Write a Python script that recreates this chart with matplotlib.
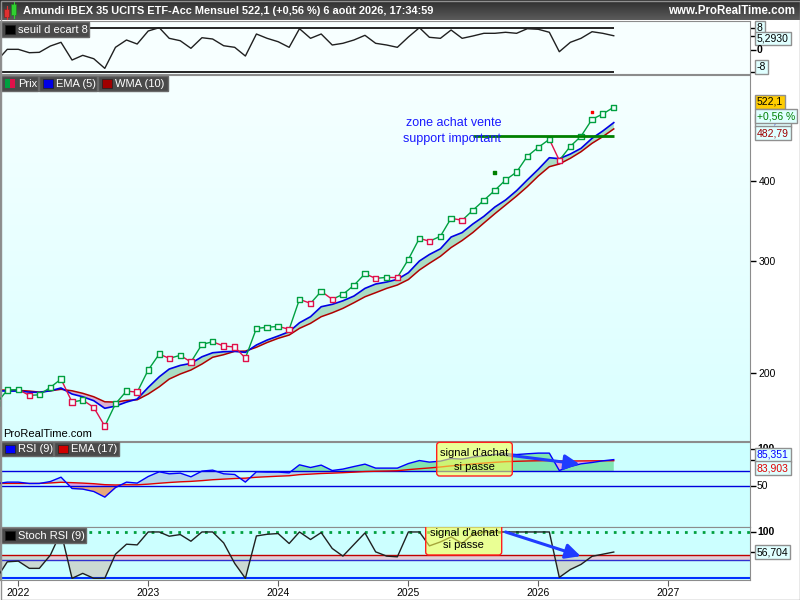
import numpy as np
import pandas as pd
import matplotlib
matplotlib.use("Agg")
import matplotlib.pyplot as plt
import matplotlib.dates as mdates
from matplotlib.patches import Rectangle, FancyBboxPatch
from matplotlib.ticker import NullLocator, FixedLocator

plt.rcParams['font.family'] = ['Liberation Sans', 'DejaVu Sans']

# ---- data (monthly, Nov 2021 -> Aug 2026) ----
months = pd.date_range("2021-11-01", "2026-08-01", freq="MS")

prix = [179.3, 188.1, 188.4, 184.5, 184.9, 189.9, 195.7, 180.1, 181.4, 176.7,
        165.1, 179.0, 187.4, 186.7, 202.2, 214.2, 210.9, 213.2, 208.1, 221.8,
        223.9, 220.5, 219.7, 211.1, 235.0, 235.9, 236.7, 234.2, 261.0, 257.2,
        268.6, 261.0, 265.7, 274.5, 286.2, 281.5, 282.5, 282.3, 301.5, 325.3,
        321.8, 327.7, 349.7, 347.1, 359.9, 373.1, 386.8, 401.5, 413.2, 437.3,
        451.7, 465.0, 431.0, 453.4, 470.1, 499.8, 509.5, 522.1]
ema5 = [187.6, 187.4, 187.4, 186.7, 186.5, 187.6, 189.5, 185.4, 183.6, 181.0,
        176.1, 177.5, 180.1, 182.1, 189.9, 197.3, 202.9, 205.6, 207.1, 212.1,
        215.2, 216.0, 216.3, 215.5, 221.3, 225.3, 228.6, 232.2, 239.8, 245.1,
        254.1, 256.3, 259.6, 264.1, 271.5, 275.8, 277.8, 280.5, 287.3, 299.7,
        306.8, 313.2, 326.8, 332.1, 342.5, 352.1, 364.2, 373.5, 386.3, 401.5,
        417.3, 435.1, 433.6, 440.9, 450.1, 466.7, 479.1, 493.85]
wma10 = [188.1, 188.1, 187.9, 187.4, 186.7, 187.6, 188.6, 187.6, 185.9, 183.6,
         180.3, 180.1, 181.2, 181.6, 185.4, 190.3, 195.7, 199.3, 202.2, 206.6,
         211.7, 213.7, 216.3, 216.5, 219.5, 223.3, 226.7, 229.4, 235.0, 239.3,
         245.1, 248.6, 252.6, 257.8, 263.4, 267.3, 271.5, 274.8, 280.3, 290.1,
         297.2, 304.8, 314.6, 322.7, 332.1, 343.7, 355.5, 366.8, 378.9, 391.9,
         407.3, 421.2, 425.3, 434.2, 444.6, 458.3, 469.4, 482.79]
ecart = [-3.9, 0.36, 0.36, -0.87, -0.73, 1.56, 2.91, -3.53, -1.82, -3.05,
         -6.55, 1.09, 3.75, 2.29, 7.02, 8.22, 4.36, 3.49, 0.73, 4.58,
         4.11, 1.67, 1.09, -2.07, 5.93, 4.36, 3.13, 1.09, 7.85, 4.36,
         5.93, 1.93, 2.55, 3.75, 5.45, 2.55, 1.93, 1.09, 4.84, 8.22,
         4.73, 4.36, 7.38, 4.36, 5.2, 6.18, 6.18, 6.55, 6.18, 7.85,
         7.64, 6.55, -0.51, 2.91, 4.36, 6.76, 6.18, 5.293]
rsi9 = [53.3, 55.3, 55.3, 53.5, 53.5, 56.1, 61.9, 46.8, 46.0, 42.8,
        35.3, 48.1, 55.3, 54.0, 62.8, 69.1, 66.4, 67.3, 62.4, 70.0,
        71.3, 66.4, 65.5, 55.3, 69.1, 68.7, 68.7, 67.7, 78.4, 74.8,
        78.0, 70.8, 72.7, 76.1, 79.3, 74.0, 74.0, 74.0, 80.1, 84.1,
        82.0, 83.3, 86.8, 86.0, 88.7, 90.4, 92.1, 93.1, 92.1, 93.1,
        94.0, 94.0, 70.8, 76.1, 79.7, 81.5, 83.7, 85.351]
rsi_ema17 = [53.5, 53.5, 53.5, 53.5, 53.6, 54.2, 55.1, 54.6, 54.0, 53.2,
             51.9, 51.5, 51.8, 51.7, 52.6, 53.8, 54.8, 55.7, 56.3, 57.3,
             58.5, 59.3, 60.1, 60.6, 61.8, 62.5, 63.2, 63.8, 65.3, 66.0,
             66.8, 67.3, 67.9, 68.6, 69.4, 69.8, 70.1, 70.5, 72.0, 73.2,
             74.2, 75.5, 77.0, 78.3, 79.5, 80.7, 81.7, 82.6, 83.1, 83.5,
             83.8, 84.0, 83.6, 83.5, 83.6, 83.7, 83.8, 83.903]
stoch_rsi = [0, 35.6, 37.1, 21.5, 21.5, 50, 100, 0, 10.7, 0,
             0, 52, 73.6, 72.1, 100, 100, 90.8, 94.4, 80, 100,
             100, 76.4, 32.2, 0, 91.4, 95, 96.6, 75.1, 100, 83.7,
             98.7, 64.4, 47.9, 73, 97.9, 57.1, 47.9, 46.4, 100, 100,
             70, 78.5, 89.3, 75.1, 95, 100, 100, 100, 100, 100,
             100, 100, 2, 19, 30, 47.5, 52, 56.704]

support_level = 471.0
support_start = pd.Timestamp("2025-07-01")
signal_dates = [pd.Timestamp("2025-09-01"), pd.Timestamp("2026-06-01")]
signal_values = [412.0, 513.0]
signal_colors = ["#008000", "#ff0000"]
years = [2022, 2023, 2024, 2025, 2026, 2027]
price_ticks = [200, 300, 400]

prix = np.array(prix)
ema5 = np.array(ema5)
wma10 = np.array(wma10)
rsi9 = np.array(rsi9)
rsi_ema17 = np.array(rsi_ema17)
stoch_rsi = np.array(stoch_rsi)

# ---- layout in pixels ----
W, H = 800, 600


def box(x0, y0, x1, y1):
    return [x0 / W, 1 - y1 / H, (x1 - x0) / W, (y1 - y0) / H]


fig = plt.figure(figsize=(8, 6), dpi=100, facecolor="white")

ax_top = fig.add_axes(box(0, 21, 750, 74))
ax_bg = fig.add_axes(box(0, 75, 750, 441))
ax = fig.add_axes(box(0, 75, 750, 441))
ax_rsi = fig.add_axes(box(0, 441.5, 750, 526.5))
ax_st = fig.add_axes(box(0, 527, 750, 580))

x_jan22 = mdates.date2num(pd.Timestamp("2022-01-01"))
ppd = 130 / 365.25
xl = (x_jan22 - 18.3 / ppd, x_jan22 + (750 - 18.3) / ppd)

# main background gradient
ax_bg.imshow(np.linspace(0, 1, 100).reshape(-1, 1),
             cmap=matplotlib.colors.LinearSegmentedColormap.from_list(
                 "bg", ["#f6ffff", "#d9ffff"]),
             aspect="auto", extent=[0, 1, 1, 0])
ax_bg.axis("off")
ax.patch.set_alpha(0)

for a in (ax_top, ax, ax_rsi, ax_st):
    a.set_xlim(*xl)
    for s in a.spines.values():
        s.set_color("#8c8c8c")
    a.tick_params(axis="x", which="both", bottom=False, labelbottom=False)
    a.yaxis.tick_right()
    a.yaxis.set_minor_locator(NullLocator())
    a.tick_params(axis="y", which="major", length=4, width=1, colors="black",
                  labelsize=7.5, pad=2, labelright=False)

lab_box = dict(boxstyle="square,pad=0.18", fc="#e0ffff", ec="#909090", lw=1)


def rlabel(a, val, text, color="black", fc="#e0ffff", dy=0, bold=False, boxed=True):
    a.annotate(text, xy=(1.0, val), xycoords=a.get_yaxis_transform(),
               xytext=(5, dy), textcoords="offset points", va="center", ha="left",
               fontsize=7.5, color=color, fontweight="bold" if bold else "normal",
               bbox=dict(lab_box, fc=fc) if boxed else None,
               annotation_clip=False, zorder=30)


# ---- top panel: seuil d ecart 8 ----
ax_top.set_facecolor("#f7ffff")
ax_top.set_ylim(-8.6, 10.65)
ax_top.hlines([8, -8], months[0], months[-1], color="black", lw=1.2)
ax_top.plot(months, ecart, color="#202020", lw=1)
ax_top.yaxis.set_major_locator(FixedLocator([8, 5.293, 0, -8]))
rlabel(ax_top, 8, "8")
rlabel(ax_top, 5.293, "5,2930", dy=-2)
rlabel(ax_top, 0, "0", bold=True, boxed=False)
rlabel(ax_top, -8, "-8", dy=4)

# ---- main panel: price / EMA / WMA ----
ax.set_yscale("log")
ax.set_ylim(156.5, 586.5)
ax.fill_between(months, ema5, wma10, where=ema5 >= wma10, interpolate=True,
                color="#a9dcc2", lw=0, zorder=1)
ax.fill_between(months, ema5, wma10, where=ema5 < wma10, interpolate=True,
                color="#d9b2d2", lw=0, zorder=1)
ax.plot(months, wma10, color="#b00000", lw=1.1, zorder=2)
ax.plot(months, ema5, color="#0000e6", lw=1.2, zorder=2)

up_c, down_c = "#00a040", "#e0104a"
colors = [up_c]
for i in range(1, len(prix)):
    c = up_c if prix[i] >= prix[i - 1] else down_c
    colors.append(c)
    ax.plot(months[i - 1:i + 1], prix[i - 1:i + 1], color=c, lw=1, zorder=3)
ax.scatter(months, prix, marker="s", s=15, facecolors="#f0ffff",
           edgecolors=colors, linewidths=1.0, zorder=4)
ax.scatter(signal_dates, signal_values, marker="s", s=4, color=signal_colors, zorder=4)
ax.hlines(support_level, support_start, months[-1], color="#008000", lw=2, zorder=5)

ax.yaxis.set_major_locator(FixedLocator(price_ticks))
ax.yaxis.set_minor_locator(NullLocator())
ax.tick_params(axis="y", labelright=True)
ax.set_yticklabels([str(t) for t in price_ticks])
rlabel(ax, ema5[-1], "493,85", color="#0000e6", dy=1.5)
rlabel(ax, wma10[-1], "482,79", color="#a00000", dy=-3)
rlabel(ax, prix[-1], "522,1", fc="#ffcc00", dy=4)
rlabel(ax, prix[-1], "+0,56 %", color="#008000", dy=-6.5)

# ---- RSI panel ----
ax_rsi.set_facecolor("#ccffff")
ax_rsi.set_ylim(-3.9, 109.5)
ax_rsi.fill_between(months, rsi9, rsi_ema17, where=rsi9 >= rsi_ema17,
                    interpolate=True, color="#b4d6ec", lw=0, zorder=1)
ax_rsi.fill_between(months, rsi9, rsi_ema17, where=rsi9 < rsi_ema17,
                    interpolate=True, color="#dca8e4", lw=0, zorder=1)
ax_rsi.fill_between(months, rsi9, 70, where=rsi9 > 70, interpolate=True,
                    color="#80e4b2", lw=0, zorder=1.5)
ax_rsi.fill_between(months, rsi9, 50, where=rsi9 < 50, interpolate=True,
                    color="#e8a878", lw=0, zorder=1.5)
ax_rsi.axhline(70, color="#0000dd", lw=1, zorder=2)
ax_rsi.axhline(50, color="#0000dd", lw=1, zorder=2)
ax_rsi.plot(months, rsi_ema17, color="#e00000", lw=1, zorder=3)
ax_rsi.plot(months, rsi9, color="#0000ff", lw=1, zorder=3)
ax_rsi.yaxis.set_major_locator(FixedLocator([100, 50, rsi9[-1]]))
rlabel(ax_rsi, 100, "100", bold=True, boxed=False)
rlabel(ax_rsi, 50, "50", boxed=False)
rlabel(ax_rsi, rsi9[-1], "85,351", color="#0000ff", dy=3.5)
rlabel(ax_rsi, rsi_ema17[-1], "83,903", color="#e00000", dy=-5.5)
ax_rsi.annotate("", xy=(pd.Timestamp("2026-04-27"), 79.3),
                xytext=(pd.Timestamp("2025-10-03"), 91.7),
                arrowprops=dict(arrowstyle="-|>,head_length=0.9,head_width=0.45",
                                color="#1f3cff", lw=2.2, shrinkA=0, shrinkB=0),
                zorder=6)

# ---- Stoch RSI panel ----
ax_st.set_facecolor("#ccffff")
ax_st.set_ylim(-3.6, 110.7)
ax_st.axhspan(40, 50, color="#e2cdd6", lw=0, zorder=0.5)
ax_st.fill_between(months, stoch_rsi, 50, where=stoch_rsi < 50, interpolate=True,
                   color="#cbd9d2", lw=0, zorder=1)
ax_st.axhline(100, color="#00a040", lw=2, ls=(0, (1, 2.2)), zorder=2)
ax_st.axhline(50, color="#c00000", lw=1, zorder=2)
ax_st.axhline(40, color="#3030d0", lw=1, zorder=2)
ax_st.axhline(0, color="#0030ff", lw=1.5, zorder=2)
ax_st.plot(months, stoch_rsi, color="#202020", lw=1, zorder=3)
ax_st.yaxis.set_major_locator(FixedLocator([100, stoch_rsi[-1]]))
rlabel(ax_st, 100, "100", bold=True, boxed=False)
rlabel(ax_st, stoch_rsi[-1], "56,704")
ax_st.annotate("", xy=(pd.Timestamp("2026-04-30"), 47.9),
               xytext=(pd.Timestamp("2025-10-01"), 100),
               arrowprops=dict(arrowstyle="-|>,head_length=0.9,head_width=0.45",
                               color="#1f3cff", lw=2.2, shrinkA=0, shrinkB=0),
               zorder=6)

year_pos = [pd.Timestamp(f"{y}-01-01") for y in years]
ax_st.set_xticks(year_pos)
ax_st.set_xticklabels([str(y) for y in years])
ax_st.tick_params(axis="x", bottom=True, labelbottom=True, length=4,
                  labelsize=7.5, pad=2, color="#606060")

# ---- overlay: title bar, legends, notes ----
ov = fig.add_axes([0, 0, 1, 1], zorder=20)
ov.set_xlim(0, W)
ov.set_ylim(H, 0)
ov.axis("off")

ov.imshow(np.linspace(0, 1, 20).reshape(-1, 1),
          cmap=matplotlib.colors.LinearSegmentedColormap.from_list(
              "bar", ["#2e2e2e", "#5a5a5a"]),
          aspect="auto", extent=[0, W, 20, 0], zorder=1)
ov.set_xlim(0, W)
ov.set_ylim(H, 0)
ov.add_patch(Rectangle((4, 9), 5, 8, fc="#e03030", ec="#802020", lw=0.5, zorder=2))
ov.plot([6.5, 6.5], [6, 19], color="#e03030", lw=0.8, zorder=2)
ov.add_patch(Rectangle((11, 4), 5, 11, fc="#30d030", ec="#208020", lw=0.5, zorder=2))
ov.plot([13.5, 13.5], [1, 18], color="#30d030", lw=0.8, zorder=2)
ov.text(23, 10.5, "Amundi IBEX 35 UCITS ETF-Acc Mensuel 522,1 (+0,56 %) 6 août 2026, 17:34:59",
        color="white", fontweight="bold", fontsize=7.9, va="center", ha="left", zorder=3)
ov.text(795, 10.5, "www.ProRealTime.com", color="white", fontweight="bold",
        fontsize=8.3, va="center", ha="right", zorder=3)


def legend_seg(x0, x1, y0, y1, text, sq_color, text_color="white"):
    ov.add_patch(Rectangle((x0, y0), x1 - x0, y1 - y0, fc="#4a4a4a", ec="#6a6a6a",
                           lw=1, zorder=5))
    if sq_color is not None:
        ov.add_patch(Rectangle((x0 + 4, y0 + 3), 10, y1 - y0 - 6, fc=sq_color,
                               ec="#202020", lw=0.5, zorder=6))
    ov.text(x0 + 17, (y0 + y1) / 2 + 0.5, text, color=text_color, fontsize=8,
            va="center", ha="left", zorder=6)


legend_seg(1, 89, 22, 37, "seuil d ecart 8", "black")
legend_seg(1, 38, 75.5, 91, "Prix", None)
ov.add_patch(Rectangle((5, 78.5), 5, 9.5, fc="#00a040", lw=0, zorder=6))
ov.add_patch(Rectangle((10, 78.5), 5, 9.5, fc="#e0104a", lw=0, zorder=6))
legend_seg(39, 97, 75.5, 91, "EMA (5)", "#0000e6")
legend_seg(98, 168, 75.5, 91, "WMA (10)", "#a00000")
legend_seg(1, 53, 442, 456, "RSI (9)", "#0000ff")
legend_seg(54, 119, 442, 456, "EMA (17)", "#d00000")
legend_seg(1, 86, 527.5, 543, "Stoch RSI (9)", "black")

ov.text(3, 434, "ProRealTime.com", color="black", fontsize=8, va="center", ha="left")
ov.text(454, 123, "zone achat vente", color="#1a1aff", fontsize=9, va="center", ha="center")
ov.text(452, 139, "support important", color="#1a1aff", fontsize=9, va="center", ha="center")

note_fc = (1.0, 1.0, 0.3, 0.6)
ov.add_patch(FancyBboxPatch((436.7, 442.3), 75.6, 33.7,
                            boxstyle="round,pad=0,rounding_size=3",
                            fc=note_fc, ec="#ff2020", lw=1, zorder=4))
ov.text(474.5, 453.5, "signal d'achat", fontsize=8, ha="center", va="center", zorder=5)
ov.text(474.5, 466.5, "si passe", fontsize=8, ha="center", va="center", zorder=5)

p = FancyBboxPatch((425.7, 518), 76, 37, boxstyle="round,pad=0,rounding_size=3",
                   fc=note_fc, ec="#ff2020", lw=1, zorder=4)
ov.add_patch(p)
p.set_clip_box(ax_st.bbox)
ov.text(463.7, 533, "signal d'achat", fontsize=8, ha="center", va="center", zorder=5)
ov.text(463.7, 545.5, "si passe", fontsize=8, ha="center", va="center", zorder=5)

ov.add_patch(Rectangle((0.5, 0.5), W - 1, H - 1, fill=False, ec="#909090", lw=1, zorder=7))

fig.savefig("out.png", dpi=100)
